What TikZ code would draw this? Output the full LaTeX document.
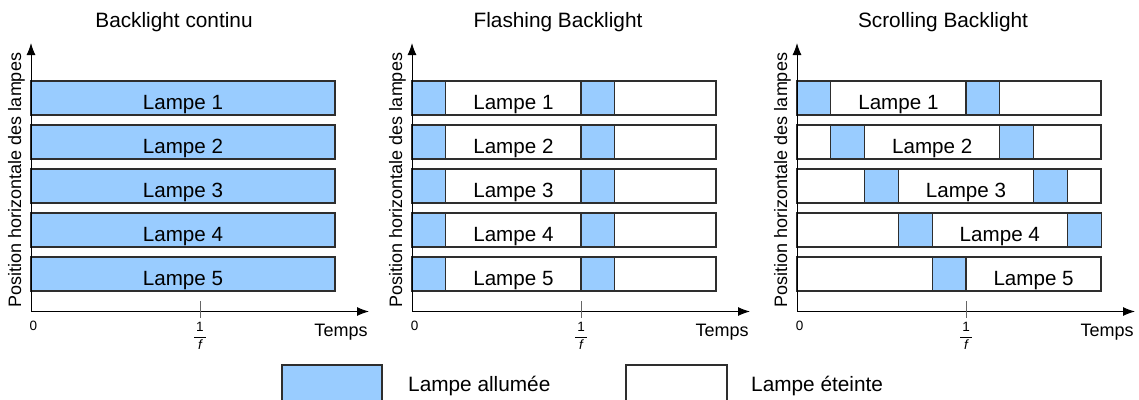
\documentclass[tikz,border=0pt]{standalone}
\usepackage{fontspec}
\setmainfont{Liberation Sans}
\usetikzlibrary{arrows.meta}
\definecolor{lampblue}{HTML}{99CCFF}
\definecolor{edgegray}{HTML}{2E2E2E}
\begin{document}
\begin{tikzpicture}[x=1pt,y=-1pt,
  lampon/.style={fill=lampblue,draw=edgegray,line width=1.1pt},
  lampoff/.style={fill=white,draw=edgegray,line width=1.1pt},
  axisline/.style={draw=black,line width=1pt,-{Latex[length=12pt,width=9pt]}},
  lamptext/.style={font=\fontsize{20.6}{24}\selectfont,anchor=base,inner sep=0},
  titletext/.style={font=\fontsize{20.8}{24}\selectfont,anchor=base,inner sep=0},
  axlabel/.style={font=\fontsize{18}{21}\selectfont,inner sep=0},
  smalltext/.style={font=\fontsize{13.5}{15}\selectfont,inner sep=0},
  tickmark/.style={draw=black!60,line width=1pt},
  legtext/.style={font=\fontsize{20.8}{24}\selectfont,anchor=base west,inner sep=0}]
\useasboundingbox (0,0) rectangle (1139,399);
\fill[white] (0,0) rectangle (1139,399);

% titles
\node[titletext] (t1) at (174,27) {Backlight continu};
\node[titletext] (t2) at (558,27) {Flashing Backlight};
\node[titletext] (t3) at (943,27) {Scrolling Backlight};

% panel 1: continuous
\foreach \i in {0,...,4} {
  \pgfmathsetmacro\T{81+44*\i}
  \pgfmathtruncatemacro\n{\i+1}
  \draw[lampon] (31,\T) rectangle (335,\T+34);
  \node[lamptext] (pa\n) at (183,\T+28) {Lampe \n};
}

% panel 2: flashing
\foreach \i in {0,...,4} {
  \pgfmathsetmacro\T{81+44*\i}
  \pgfmathtruncatemacro\n{\i+1}
  \draw[lampoff] (412,\T) rectangle (716,\T+34);
  \draw[lampon] (412,\T) rectangle (445.8,\T+34);
  \draw[lampon] (581,\T) rectangle (614.8,\T+34);
  \node[lamptext] (pb\n) at (513.4,\T+28) {Lampe \n};
}

% panel 3: scrolling
\foreach \i in {0,...,4} {
  \pgfmathsetmacro\T{81+44*\i}
  \pgfmathsetmacro\A{797+33.8*\i}
  \pgfmathtruncatemacro\n{\i+1}
  \draw[lampoff] (797,\T) rectangle (1101,\T+34);
  \draw[lampon] (\A,\T) rectangle (\A+33.8,\T+34);
  \ifnum\i<4
    \draw[lampon] (\A+169,\T) rectangle (\A+202.8,\T+34);
  \fi
  \node[lamptext] (pc\n) at (\A+101.4,\T+28) {Lampe \n};
}

% axes
\foreach \X/\k in {31/a,412/b,797/c} {
  \coordinate (o\k) at (\X,311.5);
  \coordinate (ytop\k) at (\X,43);
  \coordinate (xend\k) at (\X+338,311.5);
  \coordinate (tt\k) at (\X+169,301);
  \coordinate (tb\k) at (\X+169,318);
  \draw[axisline] (o\k) -- (ytop\k);
  \draw[axisline] (o\k) -- (xend\k);
  \draw[tickmark] (tt\k) -- (tb\k);
  \node[smalltext] (zero\k) at (\X+2.5,326) {0};
  \node[smalltext] (num\k) at (\X+169,326.5) {1};
  \node[smalltext] (den\k) at (\X+169,345) {\itshape f};
  \coordinate (fl\k) at (\X+163,337);
  \coordinate (fr\k) at (\X+175,337);
  \draw[line width=1pt] (fl\k) -- (fr\k);
  \node[axlabel,anchor=base] (temps\k) at (\X+310,336) {Temps};
  \node[axlabel,rotate=90] (ylab\k) at (\X-14.5,180) {Position horizontale des lampes};
}

% legend
\draw[lampon] (282,365) rectangle (382,402);
\node[legtext] (leg1) at (408,391) {Lampe allumée};
\draw[lampoff] (626,365) rectangle (727,402);
\node[legtext] (leg2) at (751,391) {Lampe éteinte};
\end{tikzpicture}
\end{document}
